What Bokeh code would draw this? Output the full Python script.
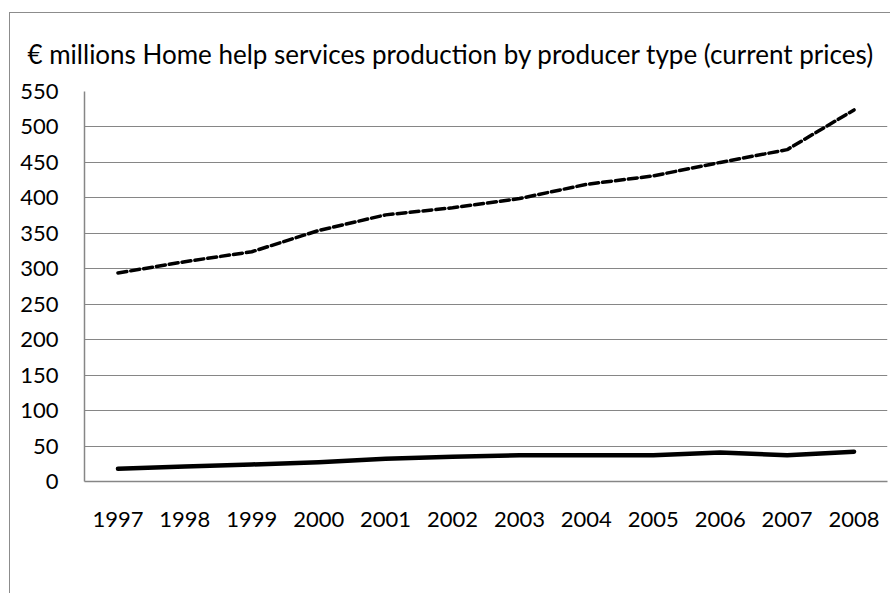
from bokeh.plotting import figure
from bokeh.models import (Range1d, FactorRange, FixedTicker, Legend, LegendItem, Title)
from bokeh.embed import file_html
from bokeh.resources import INLINE

years = ["1997", "1998", "1999", "2000", "2001", "2002", "2003", "2004", "2005", "2006", "2007", "2008"]
public_sector = [294, 310, 324, 354, 376, 386, 399, 419, 431, 450, 468, 524]
private_companies = [18, 21, 24, 27, 32, 35, 37, 37, 37, 41, 37, 42]
y_ticks = [0, 50, 100, 150, 200, 250, 300, 350, 400, 450, 500, 550]
unit_label = "€ millions"
title_text = "Home help services production by producer type (current prices)"

FONT = "Lato"
GRAY = "#868686"
BORDER = "#8c8c8c"

p = figure(width=881, height=580, frame_width=803, frame_height=390,
           x_range=FactorRange(*years), y_range=Range1d(0, 550),
           output_backend="svg", toolbar_location=None, title=None,
           min_border_left=74, min_border_right=3, min_border_top=77, min_border_bottom=0,
           margin=(12, 0, 0, 9),
           styles={"border-left": "1px solid " + BORDER, "border-top": "1px solid " + BORDER})
p.outline_line_color = None

p.add_layout(Title(text=unit_label + "  " + title_text, align="left", offset=-57, standoff=44,
                   text_font=FONT, text_font_size="26px", text_font_style="normal",
                   text_color="black"), "above")

p.yaxis.ticker = FixedTicker(ticks=y_ticks)
p.xgrid.grid_line_color = None
p.ygrid.grid_line_color = GRAY
p.ygrid.grid_line_width = 1.2

for ax in (p.xaxis, p.yaxis):
    ax.axis_line_color = GRAY
    ax.axis_line_width = 1.5
    ax.major_tick_line_color = None
    ax.minor_tick_line_color = None
    ax.major_label_text_font = FONT
    ax.major_label_text_font_size = "22px"
    ax.major_label_text_color = "black"
p.yaxis.major_label_standoff = 20
p.xaxis.major_label_standoff = 24

r_pub = p.line(x=years, y=public_sector, line_color="black", line_width=3.5,
               line_dash="9 4", line_cap="round")
r_priv = p.line(x=years, y=private_companies, line_color="black", line_width=4.5,
                line_cap="round", line_join="round")

legend = Legend(items=[LegendItem(label="Public sector", renderers=[r_pub]),
                       LegendItem(label="Private companies", renderers=[r_priv])],
                orientation="horizontal", location="top_center",
                label_text_font=FONT, label_text_font_size="21px", label_text_color="black",
                glyph_width=66, glyph_height=20, label_standoff=8, spacing=95,
                padding=0, margin=0, border_line_color=None, background_fill_alpha=0)
p.add_layout(legend, "below")

open("out.html", "w").write(file_html(p, INLINE))
